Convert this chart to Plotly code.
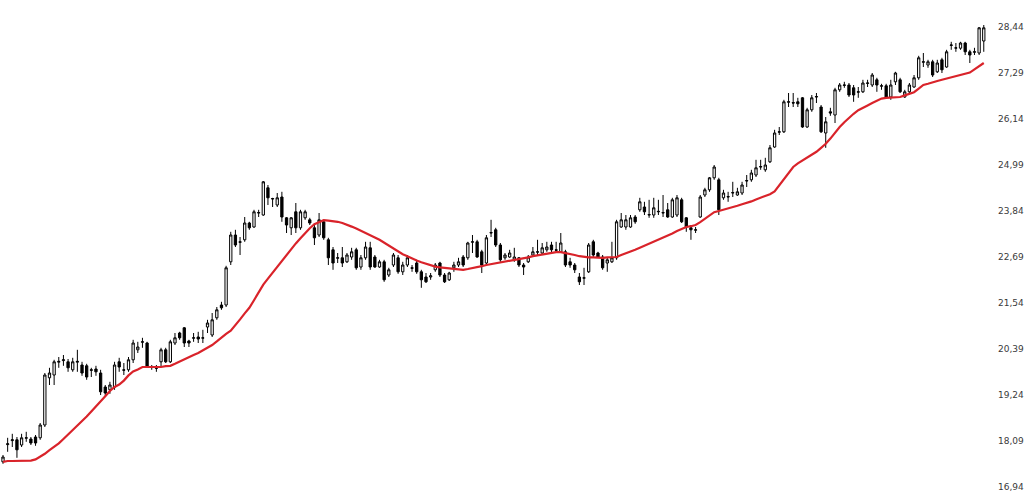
import plotly.graph_objects as go

opens = [17.57,18.00,18.10,18.12,17.99,18.16,18.14,18.19,18.17,18.49,19.67,19.74,20.06,20.10,20.07,19.87,20.06,19.99,19.97,19.87,
19.89,19.79,19.44,19.37,19.44,20.07,19.87,19.87,20.12,20.37,20.56,20.54,19.95,19.92,20.07,20.37,20.07,20.54,20.79,20.92,
20.59,20.66,20.69,20.66,20.94,20.74,21.17,21.49,21.49,22.57,23.24,23.07,23.12,23.54,23.44,23.79,23.74,24.42,24.14,23.99,
24.19,23.67,23.42,23.82,23.42,23.67,23.62,23.42,23.24,23.57,23.12,22.87,22.66,22.67,22.57,22.69,22.87,22.44,22.67,22.92,
22.69,22.44,22.57,22.24,22.49,22.67,22.32,22.49,22.42,22.54,22.32,22.19,22.19,22.37,22.54,22.24,22.12,22.42,22.49,22.69,
22.67,23.06,23.07,22.82,22.54,23.29,23.37,22.99,22.67,22.69,22.62,22.67,22.49,22.57,22.74,22.81,22.79,22.87,22.99,22.87,
22.82,22.82,22.57,22.49,22.19,22.16,22.32,23.07,22.79,22.69,22.54,22.57,22.67,23.44,23.44,23.44,23.69,23.87,23.94,23.74,
23.74,23.82,23.79,23.87,23.69,23.74,24.12,23.67,23.42,23.36,23.69,24.24,24.37,24.67,24.62,24.17,24.19,24.29,24.24,24.29,
24.59,24.62,24.74,24.94,24.87,25.07,25.44,25.81,25.82,26.56,26.55,26.57,26.67,25.94,26.37,26.69,26.44,25.79,26.32,26.24,
26.87,26.98,26.99,26.92,26.81,26.82,27.03,26.99,27.12,26.96,26.97,26.69,27.07,27.12,26.69,26.82,26.94,27.17,27.56,27.49,
27.57,27.32,27.62,27.44,27.98,27.91,27.91,28.04,27.82,27.81,27.79,28.09]

highs = [17.74,18.17,18.27,18.19,18.27,18.32,18.19,18.24,18.54,19.79,19.92,20.12,20.19,20.24,20.14,20.17,20.37,20.07,20.02,19.92,
19.97,19.87,19.49,19.57,20.07,20.17,20.04,20.19,20.62,20.57,20.67,20.57,19.99,19.99,20.42,20.42,20.62,20.79,20.82,20.94,
20.62,20.79,20.82,20.87,21.12,21.29,21.44,21.57,22.47,23.32,23.37,23.19,23.69,23.57,23.87,23.87,24.59,24.49,24.17,24.29,
24.32,23.69,23.69,24.04,23.87,23.87,23.67,23.54,23.79,23.62,23.17,22.94,22.79,22.94,22.79,22.92,22.92,22.74,23.07,23.07,
22.74,22.62,22.62,22.42,22.79,22.74,22.57,22.74,22.49,22.62,22.37,22.29,22.29,22.54,22.57,22.29,22.32,22.57,22.67,22.74,
23.07,23.24,23.12,22.87,23.24,23.62,23.42,23.04,22.79,22.87,22.92,22.69,22.54,22.74,22.94,23.12,23.04,23.07,23.07,23.07,
23.29,22.87,22.67,22.54,22.29,22.42,23.04,23.12,22.82,22.74,22.67,23.07,23.62,23.79,23.74,23.74,23.74,24.17,24.07,24.12,
24.17,24.12,24.24,24.04,24.17,24.24,24.17,23.69,23.49,23.44,24.24,24.42,24.69,24.99,24.67,24.37,24.32,24.57,24.42,24.57,
24.74,24.87,25.12,25.12,25.17,25.49,25.87,25.94,26.62,26.79,26.79,26.67,26.69,26.42,26.74,26.79,26.49,26.19,26.42,26.92,
27.04,27.07,27.04,26.99,26.94,27.12,27.12,27.29,27.17,27.02,27.02,27.12,27.32,27.17,26.87,27.04,27.24,27.72,27.79,27.62,
27.62,27.62,27.67,27.87,28.07,28.04,28.07,28.07,27.87,27.92,28.44,28.49]

lows = [17.52,17.82,17.94,17.67,17.94,18.07,17.99,17.97,18.12,18.44,19.49,19.49,19.92,19.97,19.82,19.82,19.82,19.72,19.62,19.69,
19.72,19.24,19.22,19.27,19.37,19.82,19.74,19.82,20.04,20.29,20.42,19.92,19.87,19.82,19.94,20.04,20.04,20.49,20.62,20.44,
20.44,20.57,20.54,20.54,20.79,20.69,21.12,21.37,21.44,22.49,22.94,22.74,23.07,23.37,23.42,23.69,23.72,23.99,23.94,23.94,
23.57,23.29,23.24,23.29,23.37,23.62,23.49,22.99,23.19,23.12,22.49,22.37,22.54,22.44,22.54,22.62,22.37,22.37,22.62,22.37,
22.42,22.42,22.07,22.19,22.44,22.27,22.24,22.44,22.32,22.27,21.92,22.04,22.12,22.32,22.19,22.04,22.09,22.32,22.44,22.44,
22.62,22.79,22.67,22.29,22.49,23.19,22.94,22.57,22.62,22.67,22.57,22.44,22.24,22.54,22.69,22.74,22.74,22.82,22.79,22.79,
22.79,22.44,22.42,22.29,21.99,21.99,22.29,22.69,22.67,22.37,22.32,22.54,22.62,23.42,23.37,23.42,23.52,23.82,23.74,23.67,
23.67,23.74,23.69,23.67,23.67,23.69,23.54,23.32,23.12,23.29,23.67,24.19,24.32,24.62,23.74,24.12,24.07,24.19,24.22,24.24,
24.44,24.57,24.69,24.87,24.82,25.04,25.42,25.74,25.79,26.44,26.44,26.44,25.92,25.92,26.32,26.54,25.79,25.42,26.22,26.04,
26.82,26.92,26.69,26.57,26.67,26.79,26.94,26.94,26.82,26.87,26.67,26.62,26.99,26.79,26.67,26.79,26.92,27.12,27.44,27.42,
27.19,27.29,27.29,27.42,27.87,27.82,27.87,27.74,27.54,27.74,27.74,27.82]

closes = [17.69,18.02,18.12,17.87,18.17,18.17,18.04,18.04,18.49,19.74,19.79,20.07,20.08,20.12,19.92,20.07,20.08,19.79,19.69,19.86,
19.82,19.32,19.29,19.49,19.99,19.94,19.86,20.12,20.54,20.44,20.57,19.94,19.94,19.91,20.37,20.07,20.57,20.67,20.67,20.54,
20.54,20.67,20.64,20.67,21.04,21.12,21.37,21.42,22.42,23.24,22.99,23.06,23.54,23.42,23.82,23.80,24.57,24.17,24.15,24.17,
23.69,23.49,23.67,23.42,23.82,23.82,23.54,23.17,23.62,23.17,22.67,22.54,22.67,22.54,22.74,22.82,22.42,22.67,22.94,22.44,
22.44,22.57,22.12,22.37,22.74,22.32,22.49,22.67,22.41,22.32,22.12,22.07,22.22,22.49,22.24,22.07,22.29,22.49,22.57,22.49,
23.04,23.07,22.69,22.49,23.17,23.30,22.99,22.62,22.74,22.79,22.69,22.49,22.44,22.69,22.82,22.82,22.92,22.94,22.87,22.86,
23.04,22.49,22.49,22.37,22.07,22.17,22.99,22.74,22.69,22.42,22.62,22.67,23.57,23.62,23.62,23.67,23.57,24.07,23.82,23.75,
23.92,23.83,23.80,23.69,24.12,24.17,23.57,23.44,23.37,23.37,24.19,24.37,24.67,24.94,23.87,24.29,24.20,24.30,24.32,24.49,
24.60,24.79,24.92,24.95,24.99,25.42,25.79,25.82,26.57,26.57,26.54,26.52,25.94,26.37,26.67,26.70,25.82,26.07,26.29,26.87,
26.99,26.99,26.74,26.74,26.82,27.04,27.04,27.24,26.99,26.97,26.69,26.99,27.29,26.82,26.82,26.99,27.17,27.67,27.57,27.57,
27.24,27.54,27.37,27.82,27.99,27.92,28.04,27.82,27.74,27.82,28.42,28.42]

ma = [17.57,17.59,17.59,17.59,17.59,17.59,17.60,17.63,17.69,17.77,17.86,17.94,18.03,18.14,18.25,18.37,18.48,18.60,18.70,18.83,
18.95,19.08,19.21,19.34,19.44,19.50,19.60,19.73,19.83,19.88,19.94,19.94,19.94,19.94,19.94,19.96,19.97,20.02,20.08,20.13,
20.18,20.24,20.29,20.35,20.41,20.49,20.58,20.68,20.77,20.85,20.98,21.13,21.28,21.42,21.61,21.81,22.00,22.15,22.30,22.46,
22.60,22.75,22.89,23.03,23.16,23.29,23.41,23.51,23.57,23.61,23.60,23.59,23.57,23.54,23.50,23.45,23.40,23.35,23.29,23.24,
23.18,23.12,23.05,22.97,22.90,22.82,22.76,22.71,22.65,22.60,22.56,22.52,22.49,22.45,22.43,22.42,22.41,22.39,22.38,22.37,
22.39,22.41,22.44,22.46,22.49,22.51,22.54,22.56,22.58,22.60,22.62,22.64,22.66,22.68,22.71,22.73,22.75,22.78,22.80,22.81,
22.81,22.79,22.76,22.74,22.71,22.69,22.68,22.68,22.67,22.67,22.68,22.68,22.69,22.74,22.78,22.83,22.87,22.92,22.97,23.03,
23.07,23.11,23.16,23.22,23.28,23.34,23.40,23.44,23.46,23.49,23.56,23.65,23.74,23.81,23.84,23.87,23.91,23.94,23.97,24.01,
24.04,24.08,24.13,24.17,24.22,24.26,24.33,24.49,24.64,24.80,24.94,25.03,25.10,25.17,25.23,25.32,25.42,25.52,25.65,25.81,
25.94,26.06,26.17,26.27,26.36,26.43,26.48,26.54,26.60,26.65,26.67,26.68,26.69,26.69,26.73,26.77,26.81,26.90,26.99,27.02,
27.06,27.09,27.12,27.15,27.18,27.21,27.23,27.26,27.30,27.38,27.47,27.54]

tick_vals = [16.94, 18.09, 19.24, 20.39, 21.54, 22.69, 23.84, 24.99, 26.14, 27.29, 28.44]
tick_text = ["16,94", "18,09", "19,24", "20,39", "21,54", "22,69", "23,84", "24,99", "26,14", "27,29", "28,44"]

idx = list(range(len(closes)))

fig = go.Figure()
fig.add_trace(go.Candlestick(
    x=idx, open=opens, high=highs, low=lows, close=closes,
    increasing=dict(line=dict(color="#000000", width=1), fillcolor="#ffffff"),
    decreasing=dict(line=dict(color="#000000", width=1), fillcolor="#000000"),
    whiskerwidth=0, showlegend=False, hoverinfo="skip",
))
fig.add_trace(go.Scatter(
    x=idx, y=ma, mode="lines", line=dict(color="#d9232a", width=2.2),
    showlegend=False, hoverinfo="skip",
))

fig.update_layout(
    width=1024, height=502,
    margin=dict(l=0, r=30, t=0, b=0),
    paper_bgcolor="#ffffff", plot_bgcolor="#ffffff",
    showlegend=False,
    font=dict(family="DejaVu Sans", size=9, color="#3a3a3a"),
)
fig.update_xaxes(
    range=[-0.645, 213.2], visible=False, rangeslider=dict(visible=False),
    showgrid=False, zeroline=False,
)
fig.update_yaxes(
    range=[16.565, 29.115], side="right", showgrid=False, zeroline=False,
    showline=False, ticks="", tickvals=tick_vals, ticktext=tick_text,
    ticklabelstandoff=3,
    tickfont=dict(family="DejaVu Sans", size=9, color="#3a3a3a"),
)

fig.write_html(
    "out.html",
    config={"displayModeBar": False},
    post_script="document.body.style.margin='0px';document.body.style.overflow='hidden';",
)
